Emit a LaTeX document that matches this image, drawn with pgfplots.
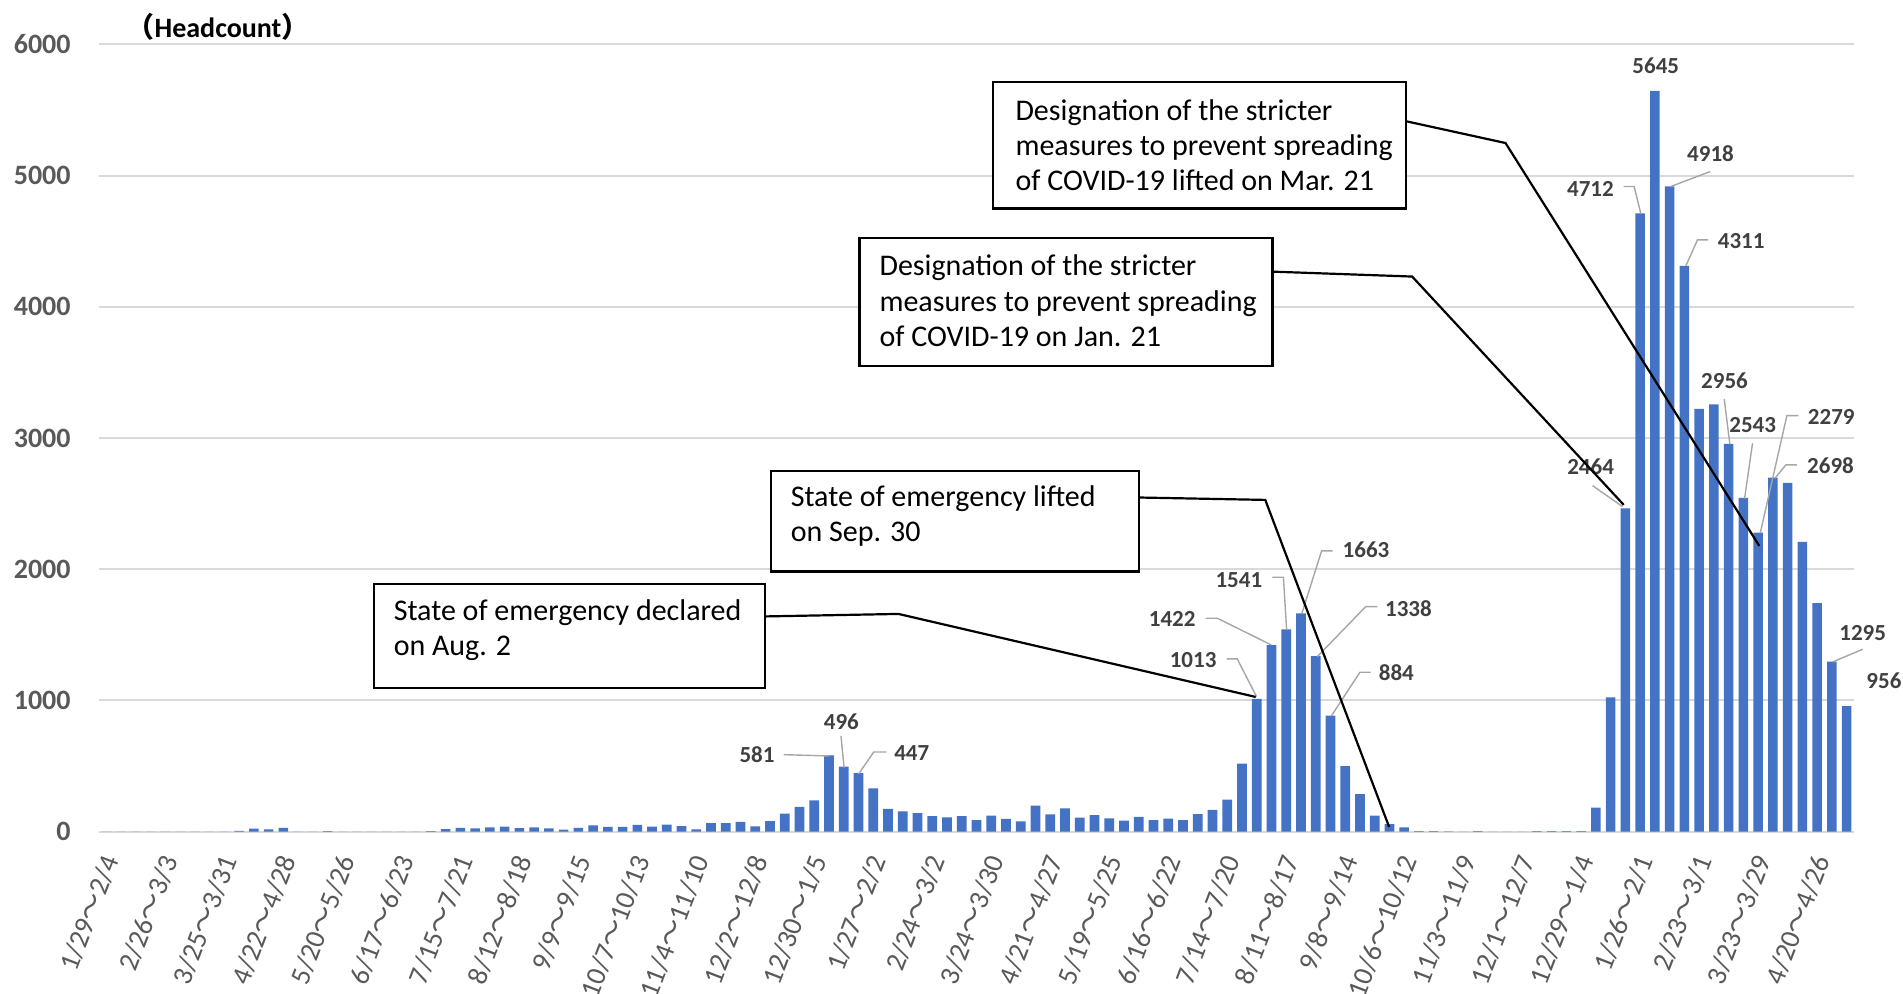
\documentclass[border=0pt]{standalone}
\usepackage{fontspec}
\setmainfont{Carlito}
\newfontfamily\cjk{Noto Sans CJK JP}
\usepackage{pgfplots}
\pgfplotsset{compat=1.18}
\definecolor{barblue}{HTML}{4472C4}
\definecolor{gridgray}{HTML}{D9D9D9}
\definecolor{ticktext}{HTML}{595959}
\definecolor{lbltext}{HTML}{404040}
\definecolor{leadgray}{HTML}{A6A6A6}
\newcommand\wv{{\cjk ～}}
\newcommand\tickfont{\fontsize{14}{16}\selectfont\bfseries}
\newcommand\xtickfont{\fontsize{14}{16}\selectfont}
\newcommand\lblfont{\fontsize{11.5}{13}\selectfont\bfseries}
\newcommand\boxfont{\fontsize{15}{17.6}\selectfont}
\newcommand\dl[3]{\node[font=\lblfont, text=lbltext, inner sep=0pt] at (axis cs:#1,#2) {#3};}
\begin{document}
\begin{tikzpicture}
\begin{axis}[
  at={(0,0)}, anchor=south west,
  scale only axis, width=877.5pt, height=393.7pt,
  xmin=-0.5, xmax=118.5, ymin=0, ymax=6000,
  ybar, bar width=4.8pt,
  axis lines*=left,
  y axis line style={draw=none},
  x axis line style={draw=gridgray, line width=1pt},
  ytick={0,1000,...,6000},
  ymajorgrids, grid style={draw=gridgray, line width=1pt},
  major tick length=0pt, tick style={draw=none},
  /pgf/number format/assume math mode=true,
  /pgf/number format/1000 sep={},
  yticklabel style={font=\tickfont, text=ticktext, anchor=east, inner sep=0pt, xshift=-14pt},
  xtick={0,4,...,116},
  xticklabels={1/29\wv2/4, 2/26\wv3/3, 3/25\wv3/31, 4/22\wv4/28, 5/20\wv5/26, 6/17\wv6/23, 7/15\wv7/21, 8/12\wv8/18, 9/9\wv9/15, 10/7\wv10/13, 11/4\wv11/10, 12/2\wv12/8, 12/30\wv1/5, 1/27\wv2/2, 2/24\wv3/2, 3/24\wv3/30, 4/21\wv4/27, 5/19\wv5/25, 6/16\wv6/22, 7/14\wv7/20, 8/11\wv8/17, 9/8\wv9/14, 10/6\wv10/12, 11/3\wv11/9, 12/1\wv12/7, 12/29\wv1/4, 1/26\wv2/1, 2/23\wv3/1, 3/23\wv3/29, 4/20\wv4/26},
  xticklabel style={font=\xtickfont, text=ticktext, xshift=2.5pt, yshift=-12.5pt, rotate=69, anchor=east, inner sep=0pt},
  clip=false,
]
\addplot[fill=barblue, draw=none] table[x=i, y=v] {
i v
0 0
1 0
2 0
3 0
4 0
5 0
6 0
7 0
8 0
9 7
10 23
11 18
12 30
13 0
14 0
15 5
16 0
17 0
18 0
19 0
20 0
21 0
22 5
23 20
24 30
25 25
26 33
27 38
28 28
29 33
30 25
31 15
32 30
33 48
34 37
35 36
36 51
37 38
38 53
39 43
40 18
41 66
42 66
43 74
44 41
45 81
46 137
47 190
48 239
49 581
50 496
51 447
52 330
53 173
54 155
55 142
56 119
57 109
58 119
59 89
60 122
61 97
62 79
63 198
64 132
65 178
66 107
67 127
68 101
69 84
70 112
71 89
72 100
73 89
74 133
75 166
76 245
77 519
78 1013
79 1422
80 1541
81 1663
82 1338
83 884
84 499
85 286
86 123
87 57
88 33
89 5
90 5
91 3
92 0
93 5
94 0
95 0
96 0
97 4
98 5
99 5
100 5
101 183
102 1024
103 2464
104 4712
105 5645
106 4918
107 4311
108 3222
109 3257
110 2956
111 2543
112 2279
113 2698
114 2658
115 2208
116 1741
117 1295
118 956
};
% axis title
\node[font=\fontsize{14}{16}\selectfont\bfseries, text=black, inner sep=0pt] at (axis cs:7.57,6133) {{\cjk （}Headcount{\cjk ）}};
% leader lines
\begin{scope}[draw=leadgray, line width=0.7pt]
\draw (axis cs:45.93,586.9) -- (axis cs:49.00,577.0);
\draw (axis cs:49.81,729.4) -- (axis cs:50.02,487.8);
\draw (axis cs:52.89,607.5) -- (axis cs:52.03,607.5) -- (axis cs:51.01,439.8);
\draw (axis cs:75.96,1316.3) -- (axis cs:76.68,1316.3) -- (axis cs:77.99,1029.0);
\draw (axis cs:74.53,1626.5) -- (axis cs:75.33,1626.5) -- (axis cs:78.99,1423.0);
\draw (axis cs:79.06,1939.0) -- (axis cs:79.81,1939.0) -- (axis cs:80.03,1537.4);
\draw (axis cs:83.15,2139.5) -- (axis cs:82.40,2139.5) -- (axis cs:81.05,1659.3);
\draw (axis cs:86.18,1715.0) -- (axis cs:85.39,1715.0) -- (axis cs:82.11,1333.9);
\draw (axis cs:85.73,1215.0) -- (axis cs:85.00,1215.0) -- (axis cs:83.06,881.9);
\draw (axis cs:100.77,2637.2) -- (axis cs:102.80,2477.2);
\draw (axis cs:102.87,4916.2) -- (axis cs:103.59,4916.2) -- (axis cs:104.05,4708.1);
\draw (axis cs:108.75,5030.5) -- (axis cs:106.08,4916.2);
\draw (axis cs:108.61,4510.0) -- (axis cs:107.89,4510.0) -- (axis cs:107.10,4311.8);
\draw (axis cs:109.70,3298.0) -- (axis cs:110.08,2952.8);
\draw (axis cs:111.62,2960.4) -- (axis cs:111.08,2538.1);
\draw (axis cs:114.72,3170.8) -- (axis cs:113.95,3170.8) -- (axis cs:112.14,2274.4);
\draw (axis cs:114.63,2795.0) -- (axis cs:113.88,2795.0) -- (axis cs:113.14,2693.6);
\draw (axis cs:119.09,1390.3) -- (axis cs:117.05,1293.5);
\end{scope}
% data labels
\dl{44.12}{586.9}{581}
\dl{49.84}{836.1}{496}
\dl{54.61}{597.6}{447}
\dl{73.69}{1308.7}{1013}
\dl{72.27}{1618.9}{1422}
\dl{76.79}{1918.4}{1541}
\dl{85.41}{2148.6}{1663}
\dl{88.29}{1695.9}{1338}
\dl{87.47}{1215.0}{884}
\dl{100.64}{2778.2}{2464}
\dl{100.63}{4898.7}{4712}
\dl{105.06}{5836.2}{5645}
\dl{108.77}{5165.4}{4918}
\dl{110.85}{4502.3}{4311}
\dl{109.72}{3435.2}{2956}
\dl{111.63}{3099.9}{2543}
\dl{116.96}{3158.6}{2279}
\dl{116.91}{2787.4}{2698}
\dl{119.09}{1516.8}{1295}
\dl{120.53}{1150.9}{956}
% annotation boxes
\begin{scope}[draw=black, line width=1.1pt]
\draw[fill=white] (axis cs:60.13,5710.4) rectangle (axis cs:88.12,4748.5);
\draw[fill=white] (axis cs:51.07,4525.9) rectangle (axis cs:79.07,3545.8);
\draw[fill=white] (axis cs:45.06,2750.0) rectangle (axis cs:70.01,1982.5);
\draw[fill=white] (axis cs:18.14,1890.3) rectangle (axis cs:44.66,1094.5);
\draw (axis cs:88.12,5413.9) -- (axis cs:94.87,5247.7) -- (axis cs:112.08,2177.6);
\draw (axis cs:79.07,4267.6) -- (axis cs:88.54,4230.2) -- (axis cs:102.89,2490.1);
\draw (axis cs:70.01,2546.5) -- (axis cs:78.58,2528.2) -- (axis cs:86.98,35.8);
\draw (axis cs:44.66,1640.3) -- (axis cs:53.71,1659.3) -- (axis cs:77.93,1026.7);
\end{scope}
\node[anchor=west, align=left, font=\boxfont, inner sep=0pt] at (axis cs:61.62,5229.5) {Designation of the stricter\\measures to prevent spreading\\of COVID-19 lifted on Mar. 21};
\node[anchor=west, align=left, font=\boxfont, inner sep=0pt] at (axis cs:52.40,4045.0) {Designation of the stricter\\measures to prevent spreading\\of COVID-19 on Jan. 21};
\node[anchor=west, align=left, font=\boxfont, inner sep=0pt] at (axis cs:46.38,2403.2) {State of emergency lifted\\on Sep. 30};
\node[anchor=west, align=left, font=\boxfont, inner sep=0pt] at (axis cs:19.46,1533.5) {State of emergency declared\\on Aug. 2};
\end{axis}
\pgfresetboundingbox
\path[use as bounding box] (-49.5pt,-81.15pt) rectangle (902pt,415.85pt);
\end{tikzpicture}
\end{document}
